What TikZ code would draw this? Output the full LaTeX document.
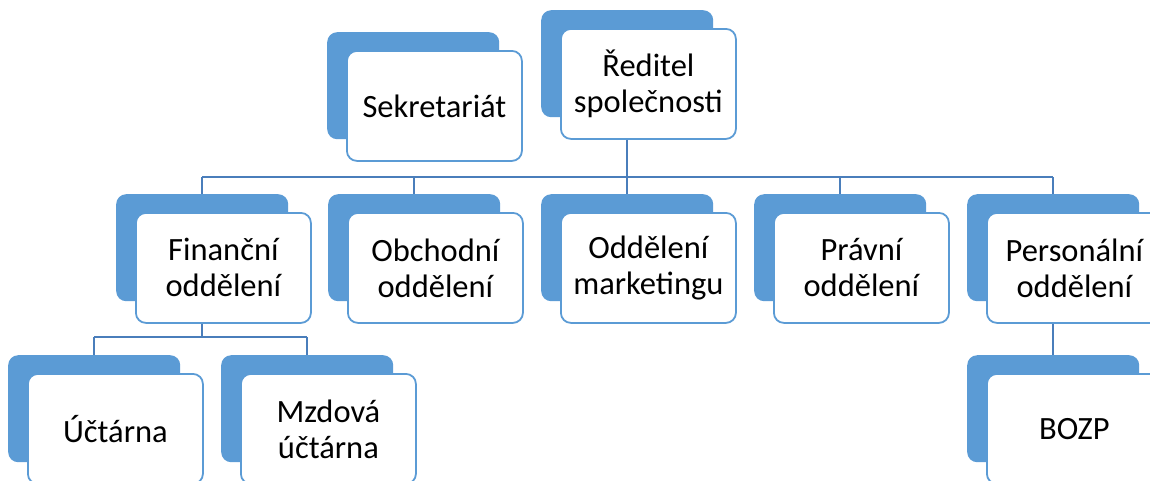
\documentclass[tikz,border=0pt]{standalone}
\usepackage{fontspec}
\setmainfont{Carlito}
\definecolor{boxblue}{HTML}{5B9BD5}
\definecolor{connblue}{HTML}{4A7EBB}
\tikzset{
  backbox/.style={fill=boxblue, draw=none, rounded corners=10pt, minimum width=172pt, minimum height=107pt, anchor=north west, inner sep=0pt},
  frontbox/.style={fill=white, draw=boxblue, line width=1.8pt, rounded corners=10pt, minimum width=175pt, minimum height=110pt, anchor=north west, inner sep=0pt, align=center, font=\fontsize{32.5}{36}\selectfont},
  conn/.style={draw=connblue, line width=2.2pt}
}
\newcommand{\orgbox}[4]{%
  \node[backbox] (#1-b) at (#2-19,#3-18) {};
  \node[frontbox] (#1) at (#2,#3) {#4};
}
\begin{document}
\begin{tikzpicture}[x=1pt,y=-1pt]
\useasboundingbox (0,0) rectangle (1150,480);
\clip (0,0) rectangle (1150,480);
% boxes
\orgbox{sek}{346}{50}{Sekretariát}
\orgbox{dir}{560}{28}{Ředitel\\společnosti}
\orgbox{fin}{135}{212}{Finanční\\oddělení}
\orgbox{obch}{347}{212}{Obchodní\\oddělení}
\orgbox{mkt}{560}{212}{Oddělení\\marketingu}
\orgbox{prav}{773}{212}{Právní\\oddělení}
\orgbox{pers}{986}{212}{Personální\\oddělení}
\orgbox{uct}{27}{373}{Účtárna}
\orgbox{mzd}{240}{373}{Mzdová\\účtárna}
\orgbox{bozp}{986}{373}{BOZP}
% connectors
\coordinate (bar1) at (0,177);
\coordinate (bar2) at (0,337);
\draw[conn] (dir.south -| dir-b.south) -- (mkt-b.north);
\draw[conn] (fin-b.north |- bar1) -- (pers-b.north |- bar1);
\draw[conn] (fin-b.north |- bar1) -- (fin-b.north);
\draw[conn] (obch-b.north |- bar1) -- (obch-b.north);
\draw[conn] (prav-b.north |- bar1) -- (prav-b.north);
\draw[conn] (pers-b.north |- bar1) -- (pers-b.north);
\draw[conn] (fin.south -| fin-b.south) -- (fin-b.south |- bar2);
\draw[conn] (uct-b.north |- bar2) -- (mzd-b.north |- bar2);
\draw[conn] (uct-b.north |- bar2) -- (uct-b.north);
\draw[conn] (mzd-b.north |- bar2) -- (mzd-b.north);
\draw[conn] (pers.south -| pers-b.south) -- (bozp-b.north);
\end{tikzpicture}
\end{document}
